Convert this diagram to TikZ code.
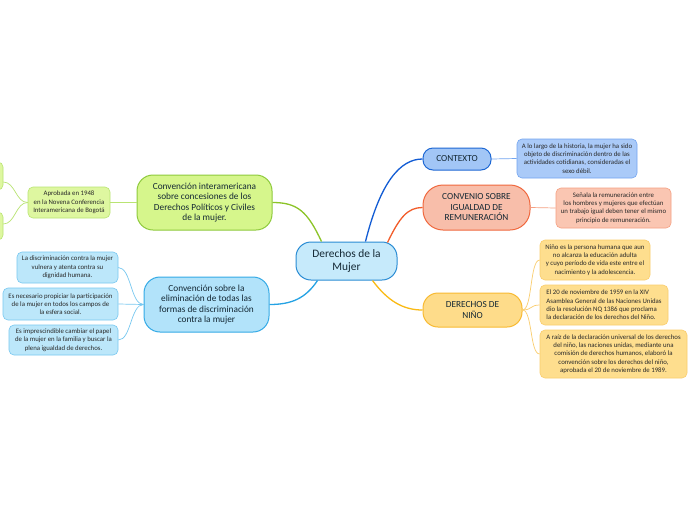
\documentclass[tikz,border=0pt]{standalone}
\usepackage{fontspec}
\setmainfont{Carlito}
\usetikzlibrary{calc}
\definecolor{maintext}{RGB}{20,40,52}
\definecolor{kidtext}{RGB}{40,40,40}
\definecolor{ctrfill}{RGB}{198,234,251}
\definecolor{ctrline}{RGB}{42,140,212}
\definecolor{grfill}{RGB}{214,246,140}
\definecolor{grline}{RGB}{142,202,60}
\definecolor{grkfill}{RGB}{222,247,160}
\definecolor{grkline}{RGB}{185,228,115}
\definecolor{grconn}{RGB}{140,196,40}
\definecolor{lbfill}{RGB}{178,227,250}
\definecolor{lbline}{RGB}{52,170,230}
\definecolor{lbkfill}{RGB}{188,231,250}
\definecolor{lbkline}{RGB}{120,200,240}
\definecolor{lbconn}{RGB}{36,162,228}
\definecolor{dbfill}{RGB}{162,198,246}
\definecolor{dbline}{RGB}{30,104,212}
\definecolor{dbkfill}{RGB}{170,202,248}
\definecolor{dbkline}{RGB}{115,165,240}
\definecolor{dbconn}{RGB}{18,92,212}
\definecolor{orfill}{RGB}{248,190,170}
\definecolor{orline}{RGB}{240,104,62}
\definecolor{orkfill}{RGB}{250,198,178}
\definecolor{orkline}{RGB}{245,160,130}
\definecolor{orconn}{RGB}{242,92,42}
\definecolor{yefill}{RGB}{254,220,138}
\definecolor{yeline}{RGB}{248,186,50}
\definecolor{yekfill}{RGB}{254,222,142}
\definecolor{yekline}{RGB}{250,205,110}
\definecolor{yeconn}{RGB}{250,186,20}
\begin{document}
\begin{tikzpicture}[x=1pt,y=-1pt,
  mainbox/.style={draw, rectangle, inner sep=0pt, align=center, line width=1pt,
    text=maintext, font=\fontsize{9.3}{10.5}\selectfont},
  kidbox/.style={draw, rectangle, rounded corners=5pt, inner sep=0pt, align=center,
    line width=0.6pt, text=kidtext, font=\fontsize{6.8}{8.3}\selectfont},
  mainconn/.style={line width=1.3pt},
  kidconn/.style={line width=0.7pt},
  ]
\useasboundingbox (0,0) rectangle (696,520);
\fill[white] (0,0) rectangle (696,520);
\clip (0,0) rectangle (696,520);

% center
\node[mainbox, draw=ctrline, fill=ctrfill, rounded corners=15pt,
  minimum width=101pt, minimum height=38pt,
  font=\fontsize{11.4}{13}\selectfont] (ctr) at (346.5,261) {Derechos de la\\Mujer};

% green branch
\node[mainbox, draw=grline, fill=grfill, rounded corners=16pt,
  minimum width=135pt, minimum height=55pt] (gr) at (204.5,202.5)
  {Convención interamericana\\sobre concesiones de los\\Derechos Políticos y Civiles\\de la mujer.};
\node[kidbox, draw=grkline, fill=grkfill, minimum width=82pt, minimum height=31pt]
  (grk) at (69,202.5) {Aprobada en 1948\\en la Novena Conferencia\\Interamericana de Bogotá};
\node[kidbox, draw=grkline, fill=grkfill, minimum width=80pt, minimum height=28pt]
  (grp1) at (-37,176) {};
\node[kidbox, draw=grkline, fill=grkfill, minimum width=80pt, minimum height=28pt]
  (grp2) at (-37,226) {};

% light blue branch
\node[mainbox, draw=lbline, fill=lbfill, rounded corners=16pt,
  minimum width=125pt, minimum height=55pt] (lb) at (206.5,304.5)
  {Convención sobre la\\eliminación de todas las\\formas de discriminación\\contra la mujer};
\node[kidbox, draw=lbkline, fill=lbkfill, minimum width=101pt, minimum height=31pt]
  (lb1) at (67.5,267.5) {La discriminación contra la mujer\\vulnera y atenta contra su\\dignidad humana.};
\node[kidbox, draw=lbkline, fill=lbkfill, minimum width=115pt, minimum height=32pt]
  (lb2) at (60.5,304) {Es necesario propiciar la participación\\de la mujer en todos los campos de\\la esfera social.};
\node[kidbox, draw=lbkline, fill=lbkfill, minimum width=109pt, minimum height=30pt]
  (lb3) at (63.5,340) {Es imprescindible cambiar el papel\\de la mujer en la familia y buscar la\\plena igualdad de derechos.};

% dark blue branch
\node[mainbox, draw=dbline, fill=dbfill, rounded corners=10pt,
  minimum width=68pt, minimum height=22pt] (ctx) at (457,159) {CONTEXTO};
\node[kidbox, draw=dbkline, fill=dbkfill, minimum width=120pt, minimum height=39pt]
  (ctxk) at (577,158.5) {A lo largo de la historia, la mujer ha sido\\objeto de discriminación dentro de las\\actividades cotidianas, consideradas el\\sexo débil.};

% orange branch
\node[mainbox, draw=orline, fill=orfill, rounded corners=20pt,
  minimum width=107pt, minimum height=45pt] (conv) at (476.5,207.5)
  {CONVENIO SOBRE\\IGUALDAD DE\\REMUNERACIÓN};
\node[kidbox, draw=orkline, fill=orkfill, minimum width=115pt, minimum height=40pt]
  (convk) at (613.5,208) {Señala la remuneración entre\\los hombres y mujeres que efectúan\\un trabajo igual deben tener el mismo\\principio de remuneración.};

% yellow branch
\node[mainbox, draw=yeline, fill=yefill, rounded corners=15pt,
  minimum width=99pt, minimum height=34pt] (der) at (472.5,310)
  {DERECHOS DE\\NIÑO};
\node[kidbox, draw=yekline, fill=yekfill, minimum width=110pt, minimum height=40pt]
  (der1) at (595,260) {Niño es la persona humana que aun\\no alcanza la educación adulta\\y cuyo período de vida este entre el\\nacimiento y la adolescencia.};
\node[kidbox, draw=yekline, fill=yekfill, minimum width=128pt, minimum height=40pt,
  align=left] (der2) at (604,305) {El 20 de noviembre de 1959 en la XIV\\Asamblea General de las Naciones Unidas\\dio la resolución NQ 1386 que proclama\\la declaración de los derechos del Niño.};
\node[kidbox, draw=yekline, fill=yekfill, minimum width=147pt, minimum height=48pt]
  (der3) at (613.5,354) {A raíz de la declaración universal de los derechos\\del niño, las naciones unidas, mediante una\\comisión de derechos humanos, elaboró la\\convención sobre los derechos del niño,\\aprobada el 20 de noviembre de 1989.};

% main connectors
\draw[mainconn, grconn] ($(ctr.north west)+(26,0)$) .. controls +(-14,-30) and +(25,0) .. (gr.east);
\draw[mainconn, dbconn] ($(ctr.north west)+(70,0)$) .. controls +(15,-60) and +(-22,0) .. (ctx.west);
\draw[mainconn, orconn] ($(ctr.north east)+(-10,1)$) .. controls +(12,-25) and +(-15,0) .. (conv.west);
\draw[mainconn, yeconn] ($(ctr.south west)+(77,0)$) .. controls +(15,20) and +(-20,0) .. (der.west);
\draw[mainconn, lbconn] ($(ctr.south west)+(22,0)$) .. controls +(-12,18) and +(22,0) .. (lb.east);

% child connectors
\draw[kidconn, grkline] (gr.west) -- (grk.east);
\draw[kidconn, grkline] (grk.west) .. controls +(-12,0) and +(12,0) .. ($(grp1.east)+(0,6)$);
\draw[kidconn, grkline] (grk.west) .. controls +(-12,0) and +(12,0) .. ($(grp2.east)+(0,-2)$);
\draw[kidconn, lbkline] (lb.west) .. controls +(-13,0) and +(13,0) .. (lb1.east);
\draw[kidconn, lbkline] (lb.west) -- (lb2.east);
\draw[kidconn, lbkline] (lb.west) .. controls +(-13,0) and +(13,0) .. (lb3.east);
\draw[kidconn, dbkline] (ctx.east) -- (ctxk.west);
\draw[kidconn, orkline] (conv.east) -- (convk.west);
\draw[kidconn, yekline] (der.east) .. controls +(10,0) and +(-10,0) .. (der1.west);
\draw[kidconn, yekline] (der.east) .. controls +(10,0) and +(-10,0) .. (der2.west);
\draw[kidconn, yekline] (der.east) .. controls +(10,0) and +(-10,0) .. (der3.west);
\end{tikzpicture}
\end{document}
